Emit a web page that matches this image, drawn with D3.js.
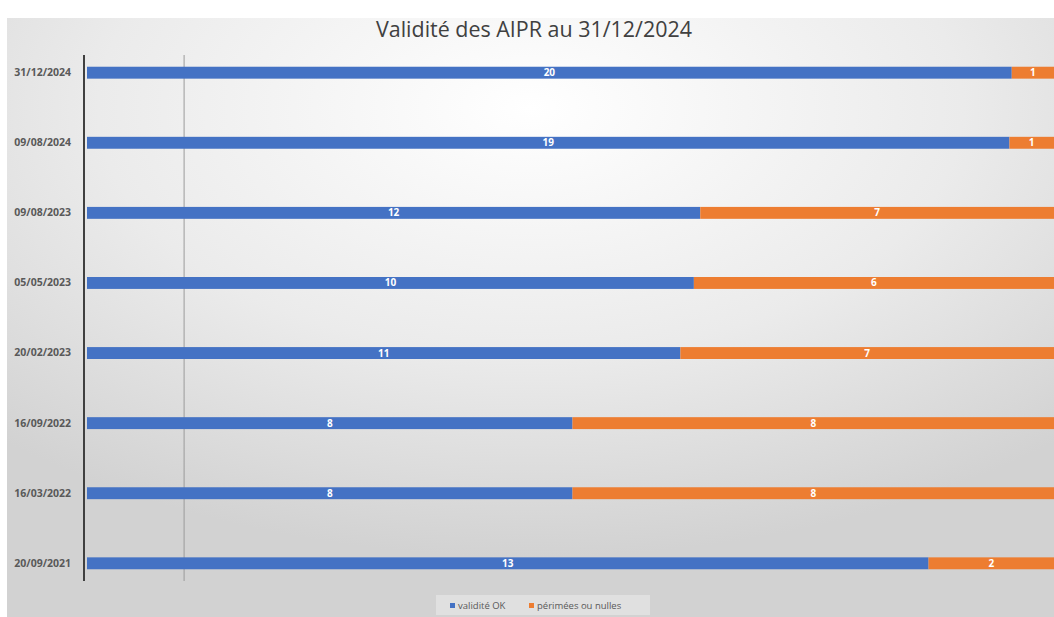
<!DOCTYPE html>
<html><head><meta charset="utf-8">
<script src="https://cdn.jsdelivr.net/npm/d3@7"></script>
<style>html,body{margin:0;padding:0;background:#fff;}svg{display:block;}</style>
</head><body>
<svg id="c" width="1054" height="617"></svg>
<script>
const categories = ["31/12/2024","09/08/2024","09/08/2023","05/05/2023","20/02/2023","16/09/2022","16/03/2022","20/09/2021"];
const validOK = [20,19,12,10,11,8,8,13];
const perimees = [1,1,7,6,7,8,8,2];
const seriesNames = ["validité OK","périmées ou nulles"];
const colors = ["#4472c4","#ed7d31"];
const gridTicks = [0.1];

const svg = d3.select("#c");
const defs = svg.append("defs");
const rg = defs.append("radialGradient").attr("id","bg").attr("cx","50%").attr("cy","15%").attr("r","75%");
rg.append("stop").attr("offset","0%").attr("stop-color","#ffffff");
rg.append("stop").attr("offset","55%").attr("stop-color","#ebebeb");
rg.append("stop").attr("offset","100%").attr("stop-color","#d2d2d2");

svg.append("rect").attr("x",7).attr("y",18).attr("width",1047).attr("height",599).attr("fill","url(#bg)");

svg.append("text").attr("x",534).attr("y",37).attr("text-anchor","middle")
  .attr("font-family","'Open Sans', sans-serif").attr("font-size",22).attr("font-weight",500).attr("fill","#404040")
  .attr("textLength",316).attr("lengthAdjust","spacingAndGlyphs")
  .text("Validité des AIPR au 31/12/2024");

const data = categories.map((c,i)=>({cat:c, a:validOK[i], b:perimees[i], t:validOK[i]+perimees[i]}));

const x = d3.scaleLinear().domain([0,1]).range([87,1058]);
const y = d3.scaleBand().domain(categories).range([38,598]).paddingInner(0.83).paddingOuter(0.41);

const g = svg.append("g");
g.selectAll("line.grid").data(gridTicks).join("line").attr("class","grid")
  .attr("x1",d=>x(d)).attr("x2",d=>x(d)).attr("y1",55).attr("y2",581)
  .attr("stroke","#9a9a9a").attr("stroke-width",1);

const stack = d3.stack().keys(["a","b"]).offset(d3.stackOffsetExpand)(data);
stack.forEach((s,si)=>{
  g.selectAll("rect.s"+si).data(s).join("rect").attr("class","s"+si)
    .attr("x",d=>x(d[0])).attr("width",d=>x(d[1])-x(d[0]))
    .attr("y",d=>y(d.data.cat)).attr("height",y.bandwidth())
    .attr("fill",colors[si]);
  g.selectAll("text.l"+si).data(s).join("text").attr("class","l"+si)
    .attr("x",d=>(x(d[0])+Math.min(x(d[1]),1054))/2).attr("y",d=>y(d.data.cat)+y.bandwidth()/2+3.5)
    .attr("text-anchor","middle").attr("font-family","'Open Sans', sans-serif")
    .attr("font-size",10).attr("font-weight","bold").attr("fill","#ffffff")
    .text(d=>si===0?d.data.a:d.data.b);
});

const yAxis = d3.axisLeft(y).tickSize(0).tickPadding(13);
const ya = svg.append("g").attr("transform","translate(84,0)").call(yAxis);
ya.select(".domain").attr("stroke","#404040").attr("stroke-width",2).attr("d","M0,55V581");
ya.selectAll("text").attr("font-family","'Open Sans', sans-serif").attr("font-size",10.5)
  .attr("font-weight","bold").attr("fill","#595959");

const lg = svg.append("g");
lg.append("rect").attr("x",436).attr("y",595).attr("width",214).attr("height",20).attr("fill","#e9e9e9").attr("opacity",0.6);
const items = [{n:seriesNames[0],c:colors[0],x:450},{n:seriesNames[1],c:colors[1],x:529}];
items.forEach(it=>{
  lg.append("rect").attr("x",it.x).attr("y",603).attr("width",5).attr("height",5).attr("fill",it.c);
  lg.append("text").attr("x",it.x+8).attr("y",609).attr("font-family","'Open Sans', sans-serif")
    .attr("font-size",9.5).attr("fill","#595959").text(it.n);
});
</script>
</body></html>
